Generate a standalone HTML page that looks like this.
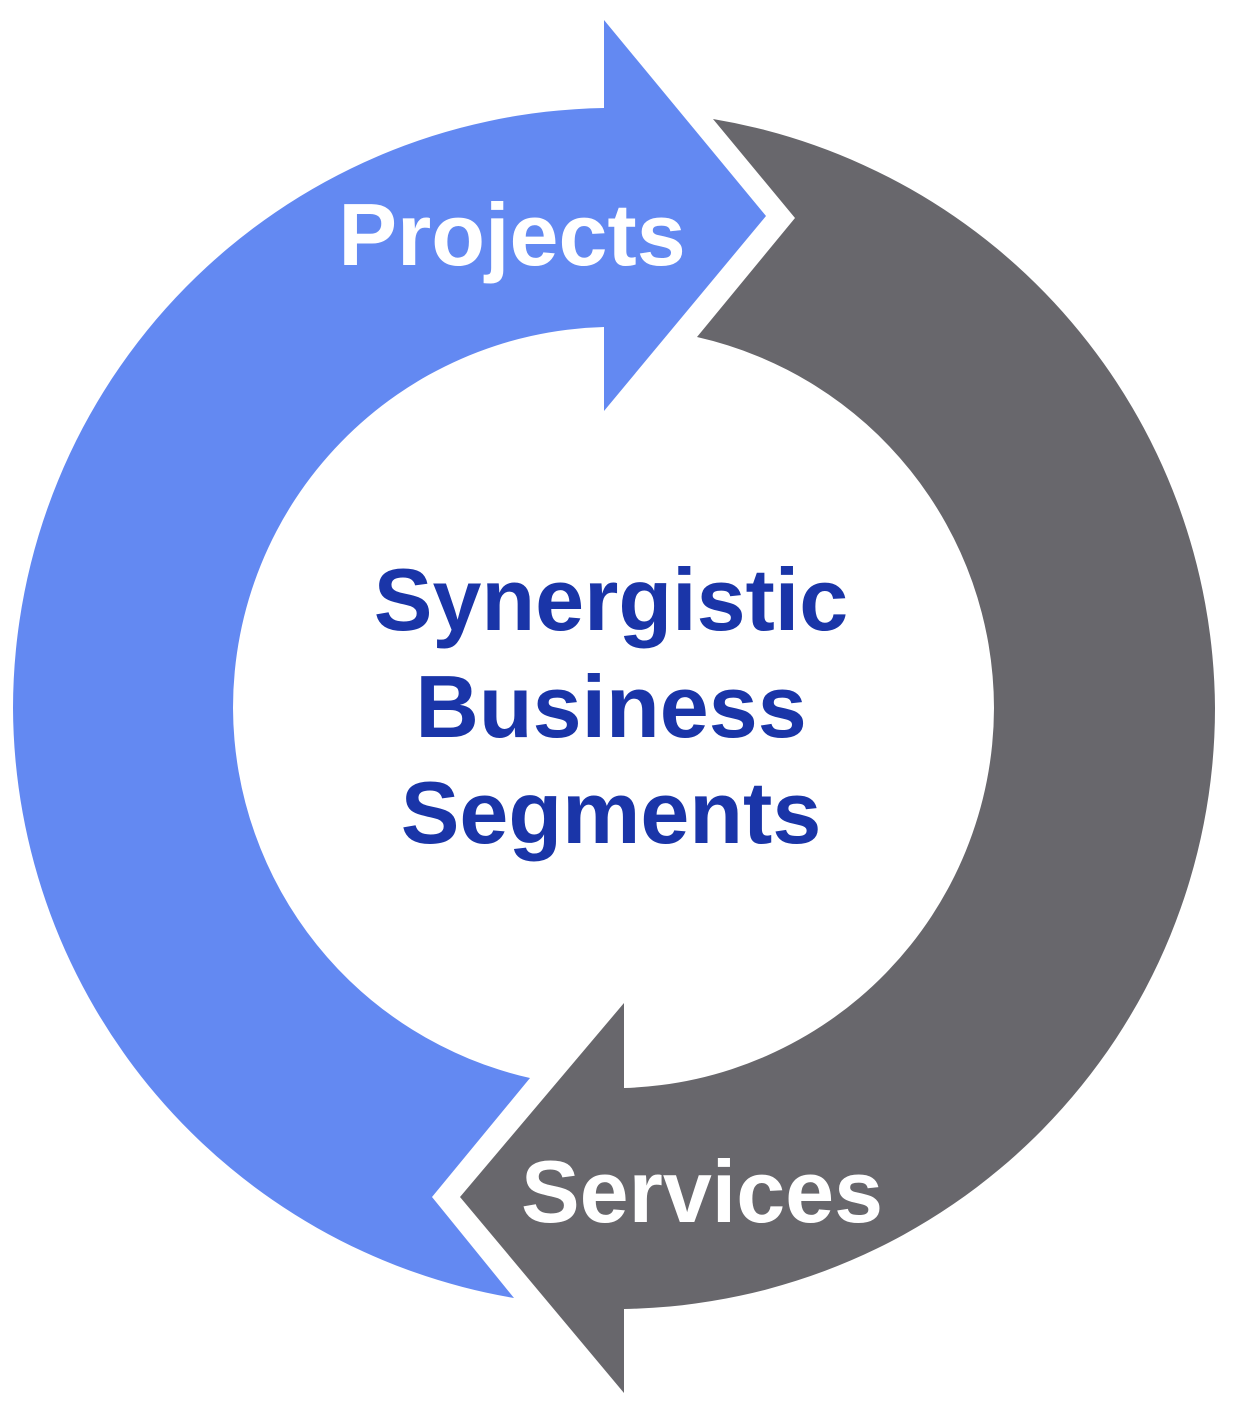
<!DOCTYPE html>
<html><head><meta charset="utf-8"><style>html,body{margin:0;padding:0;background:#fff}svg{display:block}</style></head>
<body>
<svg width="1240" height="1410" viewBox="0 0 1240 1410" xmlns="http://www.w3.org/2000/svg">
<path fill="#6389F2" d="M604,108 A601,601 0 0 0 13,708 A601,601 0 0 0 514,1298 L432,1197 L530,1078 A381,381 0 0 1 233,708 A381,381 0 0 1 604,327 L604,411 L766,216 L604,20 Z"/>
<path fill="#68676C" d="M624,1309 A601,601 0 0 0 1215,708 A601,601 0 0 0 713,119 L795,218 L697,337 A381,381 0 0 1 994,708 A381,381 0 0 1 624,1088 L624,1003 L460,1197 L624,1393 Z"/>
<g font-family="Liberation Sans, Arial, sans-serif" font-weight="bold" font-size="88">
<text x="512" y="265" fill="#fff" text-anchor="middle">Projects</text>
<text x="702" y="1222" fill="#fff" text-anchor="middle">Services</text>
<text x="611" y="630" fill="#1A35A8" text-anchor="middle">Synergistic</text>
<text x="611" y="737" fill="#1A35A8" text-anchor="middle">Business</text>
<text x="611" y="843" fill="#1A35A8" text-anchor="middle">Segments</text>
</g>
</svg>
</body></html>
